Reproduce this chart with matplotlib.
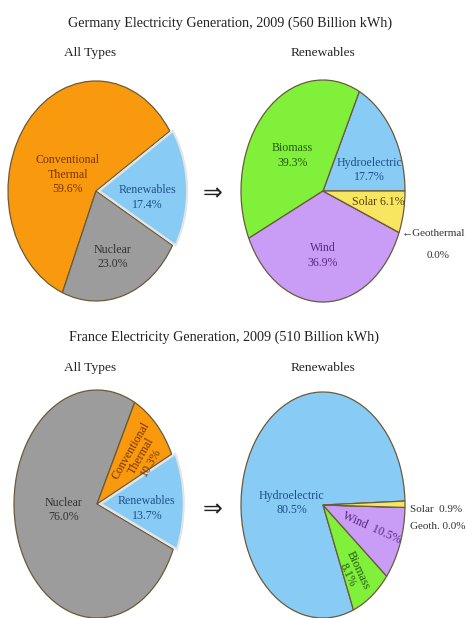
import matplotlib
matplotlib.use("Agg")
import matplotlib.pyplot as plt

plt.rcParams['font.family'] = ['Liberation Serif', 'DejaVu Serif']

W, H = 466, 618

# ---- data -------------------------------------------------------------
de_all_labels = ["Conventional\nThermal", "Nuclear", "Renewables"]
de_all_values = [59.6, 23.0, 17.4]
de_ren_labels = ["Hydroelectric", "Biomass", "Wind", "Geothermal", "Solar"]
de_ren_values = [17.7, 39.3, 36.9, 0.0, 6.1]

fr_all_labels = ["Nuclear", "Renewables", "Conventional\nThermal"]
fr_all_values = [76.0, 13.7, 10.3]
fr_ren_labels = ["Hydroelectric", "Biomass", "Wind", "Geoth.", "Solar"]
fr_ren_values = [80.5, 8.1, 10.5, 0.0, 0.9]

de_title = "Germany Electricity Generation, 2009 (560 Billion kWh)"
fr_title = "France Electricity Generation, 2009 (510 Billion kWh)"

# ---- styling ----------------------------------------------------------
fill = {
    "Conventional\nThermal": "#f99a0e",
    "Nuclear": "#9c9c9c",
    "Renewables": "#88ccf6",
    "Hydroelectric": "#88ccf6",
    "Biomass": "#80f03a",
    "Wind": "#c99cf5",
    "Geothermal": "#f6e35a",
    "Geoth.": "#f6e35a",
    "Solar": "#f8e660",
}
ink = {
    "Conventional\nThermal": "#7a3300",
    "Nuclear": "#333333",
    "Renewables": "#1c4f8a",
    "Hydroelectric": "#1c4f8a",
    "Biomass": "#255a10",
    "Wind": "#5a2a80",
    "Solar": "#5a4010",
}
EDGE = "#6b5a3a"

fig = plt.figure(figsize=(W / 100, H / 100), dpi=100)


def pie_axes(cx, cy, rx, ry, box):
    """Axes over pixel box (left, top, width, height); unit circle maps to
    an ellipse of radii rx, ry centred at pixel (cx, cy)."""
    left, top, w, h = box
    ax = fig.add_axes([left / W, 1 - (top + h) / H, w / W, h / H])
    return ax, ((left - cx) / rx, (left + w - cx) / rx), \
        ((cy - (top + h)) / ry, (cy - top) / ry)


def draw_pie(ax, xl, yl, labels, values, start, explode_label=None, offset=0.04):
    explode = [offset if l == explode_label else 0 for l in labels]
    wedges, _ = ax.pie(values, startangle=start, colors=[fill[l] for l in labels],
                       explode=explode, radius=1.0,
                       wedgeprops=dict(edgecolor=EDGE, linewidth=0.9))
    for wdg, l in zip(wedges, labels):
        if l == explode_label:
            wdg.set_edgecolor("#e4e4e4")
            wdg.set_linewidth(1.5)
    ax.set_aspect("auto")
    ax.set_xlim(*xl)
    ax.set_ylim(*yl)
    ax.axis("off")
    return wedges


def pct(v):
    return f"{v:.1f}%"


LS = 8.6

# ---- titles -----------------------------------------------------------
fig.text(230 / W, 1 - 23 / H, de_title, ha="center", va="center", fontsize=10.2, color="#222222")
fig.text(90 / W, 1 - 53 / H, "All Types", ha="center", va="center", fontsize=9.6, color="#222222")
fig.text(323 / W, 1 - 53 / H, "Renewables", ha="center", va="center", fontsize=9.6, color="#222222")

fig.text(224 / W, 1 - 337 / H, fr_title, ha="center", va="center", fontsize=10.2, color="#222222")
fig.text(90 / W, 1 - 368 / H, "All Types", ha="center", va="center", fontsize=9.6, color="#222222")
fig.text(323 / W, 1 - 368 / H, "Renewables", ha="center", va="center", fontsize=9.6, color="#222222")

fig.text(213 / W, 1 - 193 / H, "⇒", ha="center", va="center", fontsize=17, color="#222222",
         family=["DejaVu Sans"])
fig.text(213 / W, 1 - 509 / H, "⇒", ha="center", va="center", fontsize=17, color="#222222",
         family=["DejaVu Sans"])

# ---- Germany, all types ------------------------------------------------
ax, xl, yl = pie_axes(96, 191, 88, 110, (0, 70, 200, 245))
draw_pie(ax, xl, yl, de_all_labels, de_all_values, 33, explode_label="Renewables", offset=0.035)
d = dict(zip(de_all_labels, de_all_values))
ax.text(-0.32, 0.15, "Conventional\nThermal\n" + pct(d["Conventional\nThermal"]), ha="center",
        va="center", fontsize=LS, color=ink["Conventional\nThermal"], linespacing=1.25)
ax.text(0.58, -0.06, "Renewables\n" + pct(d["Renewables"]), ha="center", va="center",
        fontsize=LS, color=ink["Renewables"], linespacing=1.25)
ax.text(0.19, -0.6, "Nuclear\n" + pct(d["Nuclear"]), ha="center", va="center",
        fontsize=LS, color=ink["Nuclear"], linespacing=1.25)

# ---- Germany, renewables ----------------------------------------------
ax, xl, yl = pie_axes(323, 191, 82, 111, (235, 70, 231, 245))
draw_pie(ax, xl, yl, de_ren_labels, de_ren_values, 0)
d = dict(zip(de_ren_labels, de_ren_values))
ax.text(-0.37, 0.32, "Biomass\n" + pct(d["Biomass"]), ha="center", va="center",
        fontsize=LS, color=ink["Biomass"], linespacing=1.25)
ax.text(0.57, 0.19, "Hydroelectric\n" + pct(d["Hydroelectric"]), ha="center", va="center",
        fontsize=LS, color=ink["Hydroelectric"], linespacing=1.25)
ax.text(0.67, -0.1, "Solar " + pct(d["Solar"]), ha="center", va="center",
        fontsize=LS, color=ink["Solar"])
ax.text(0.0, -0.58, "Wind\n" + pct(d["Wind"]), ha="center", va="center",
        fontsize=LS, color=ink["Wind"], linespacing=1.25)
ax.text(0.96, -0.38, "←Geothermal", ha="left", va="center", fontsize=8.0,
        color="#333333", family=["Liberation Serif", "DejaVu Sans"])
ax.text(1.4, -0.58, pct(d["Geothermal"]), ha="center", va="center", fontsize=8.0, color="#333333")

# ---- France, all types -------------------------------------------------
ax, xl, yl = pie_axes(97, 504, 83, 114, (0, 385, 200, 233))
draw_pie(ax, xl, yl, fr_all_labels, fr_all_values, 63, explode_label="Renewables", offset=0.045)
d = dict(zip(fr_all_labels, fr_all_values))
ax.text(-0.4, -0.05, "Nuclear\n" + pct(d["Nuclear"]), ha="center", va="center",
        fontsize=LS, color=ink["Nuclear"], linespacing=1.25)
ax.text(0.6, -0.04, "Renewables\n" + pct(d["Renewables"]), ha="center", va="center",
        fontsize=LS, color=ink["Renewables"], linespacing=1.25)
ax.text(0.53, 0.42, "Conventional\nThermal\n" + pct(d["Conventional\nThermal"]), ha="center",
        va="center", fontsize=LS, color=ink["Conventional\nThermal"], rotation=60,
        linespacing=0.95, rotation_mode="anchor")

# ---- France, renewables -----------------------------------------------
ax, xl, yl = pie_axes(323, 505, 82, 113, (235, 385, 231, 233))
draw_pie(ax, xl, yl, fr_ren_labels, fr_ren_values, 2)
d = dict(zip(fr_ren_labels, fr_ren_values))
ax.text(-0.38, 0.02, "Hydroelectric\n" + pct(d["Hydroelectric"]), ha="center", va="center",
        fontsize=LS, color=ink["Hydroelectric"], linespacing=1.25)
ax.text(0.6, -0.2, "Wind  " + pct(d["Wind"]), ha="center", va="center",
        fontsize=LS, color=ink["Wind"], rotation=-24, rotation_mode="anchor")
ax.text(0.36, -0.6, "Biomass\n" + pct(d["Biomass"]), ha="center", va="center",
        fontsize=LS, color=ink["Biomass"], rotation=-65, rotation_mode="anchor",
        linespacing=1.0)
ax.text(1.06, -0.04, "Solar  " + pct(d["Solar"]), ha="left", va="center",
        fontsize=8.0, color="#333333")
ax.text(1.06, -0.19, "Geoth. " + pct(d["Geoth."]), ha="left", va="center",
        fontsize=8.0, color="#333333")

fig.savefig("out.png", dpi=100)
